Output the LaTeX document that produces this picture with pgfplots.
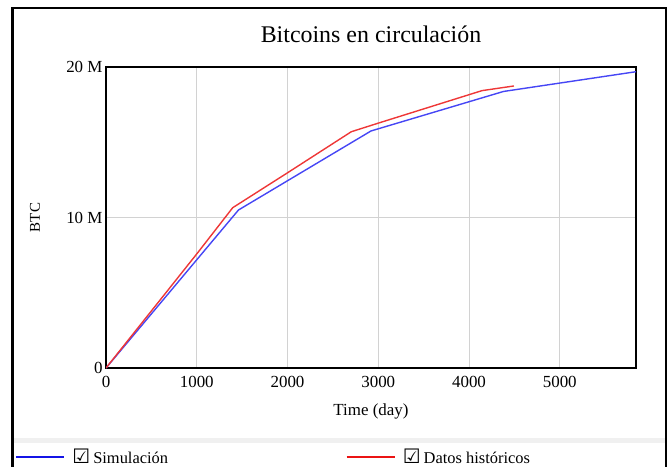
\documentclass[border=0pt]{standalone}
\usepackage{fontspec}
\setmainfont{Liberation Serif}
\newfontfamily\dv{DejaVu Sans}
\usepackage{pgfplots}
\pgfplotsset{compat=1.18}
\definecolor{simblue}{RGB}{70,70,245}
\definecolor{histred}{RGB}{238,55,55}
\definecolor{legblue}{RGB}{20,20,230}
\definecolor{legred}{RGB}{235,20,20}
\definecolor{gridgray}{RGB}{210,210,210}
\newcommand{\chk}{{\dv\fontsize{20}{20}\selectfont\char"2611}}
\begin{document}
\begin{tikzpicture}
\useasboundingbox (0,0) rectangle (670bp,-467bp);
% outer frame and legend separator
\fill[black!6] (13bp,-438bp) rectangle (666bp,-443bp);
\draw[line width=2.5bp] (12.5bp,-470bp) -- (12.5bp,-8bp) -- (666bp,-8bp) -- (666bp,-470bp);
\begin{axis}[
  at={(106bp,-368bp)}, anchor=south west,
  scale only axis, width=530bp, height=301bp,
  xmin=0, xmax=5840, ymin=0, ymax=20,
  xtick={0,1000,2000,3000,4000,5000},
  xticklabels={0,1000,2000,3000,4000,5000},
  ytick={0,10,20}, yticklabels={0,10 M,20 M},
  major tick length=0pt,
  tick label style={font=\fontsize{17}{20}\selectfont},
  xticklabel style={yshift=-5bp},
  /pgf/number format/assume math mode=true,
  grid=major, major grid style={gridgray, line width=1bp},
  axis line style={line width=2.2bp},
  title={Bitcoins en circulación},
  title style={font=\fontsize{24}{28}\selectfont, at={(axis description cs:0.5,1.09)}, anchor=center},
  xlabel={Time (day)},
  xlabel style={font=\fontsize{17}{20}\selectfont, at={(axis description cs:0.5,-0.146)}, anchor=center},
  ylabel={BTC},
  ylabel style={font=\fontsize{15}{18}\selectfont, at={(axis description cs:-0.134,0.5)}, anchor=center, rotate=0},
  legend columns=2,
  legend style={at={(axis description cs:-0.1717,-0.2957)}, anchor=west, draw=none, fill=none,
    font=\fontsize{16.5}{19}\selectfont, inner sep=0pt, outer sep=0pt,
    /tikz/every even column/.append style={column sep=0pt},
    nodes={inner sep=0pt, anchor=west}},
  legend image code/.code={\draw[#1] (0bp,0bp) -- (48bp,0bp);},
  legend cell align=left,
]
\addplot[simblue, line width=1.4bp, forget plot] coordinates {
  (0,0) (1460,10.5) (2920,15.75) (4380,18.375) (5840,19.6875)
};
\addlegendimage{legblue, line width=2.4bp}
\addlegendentry{\makebox[280bp][l]{\hspace{7bp}\chk\hspace{3bp}Simulación}}
\addplot[histred, line width=1.4bp, forget plot] coordinates {
  (0,0) (1000,7.58) (1396,10.65) (2000,12.97) (2703,15.7) (3000,16.27) (4000,18.16) (4143,18.43) (4495,18.74)
};
\addlegendimage{legred, line width=2.4bp}
\addlegendentry{\hspace{7bp}\chk\hspace{3bp}Datos históricos}
\end{axis}
\end{tikzpicture}
\end{document}
